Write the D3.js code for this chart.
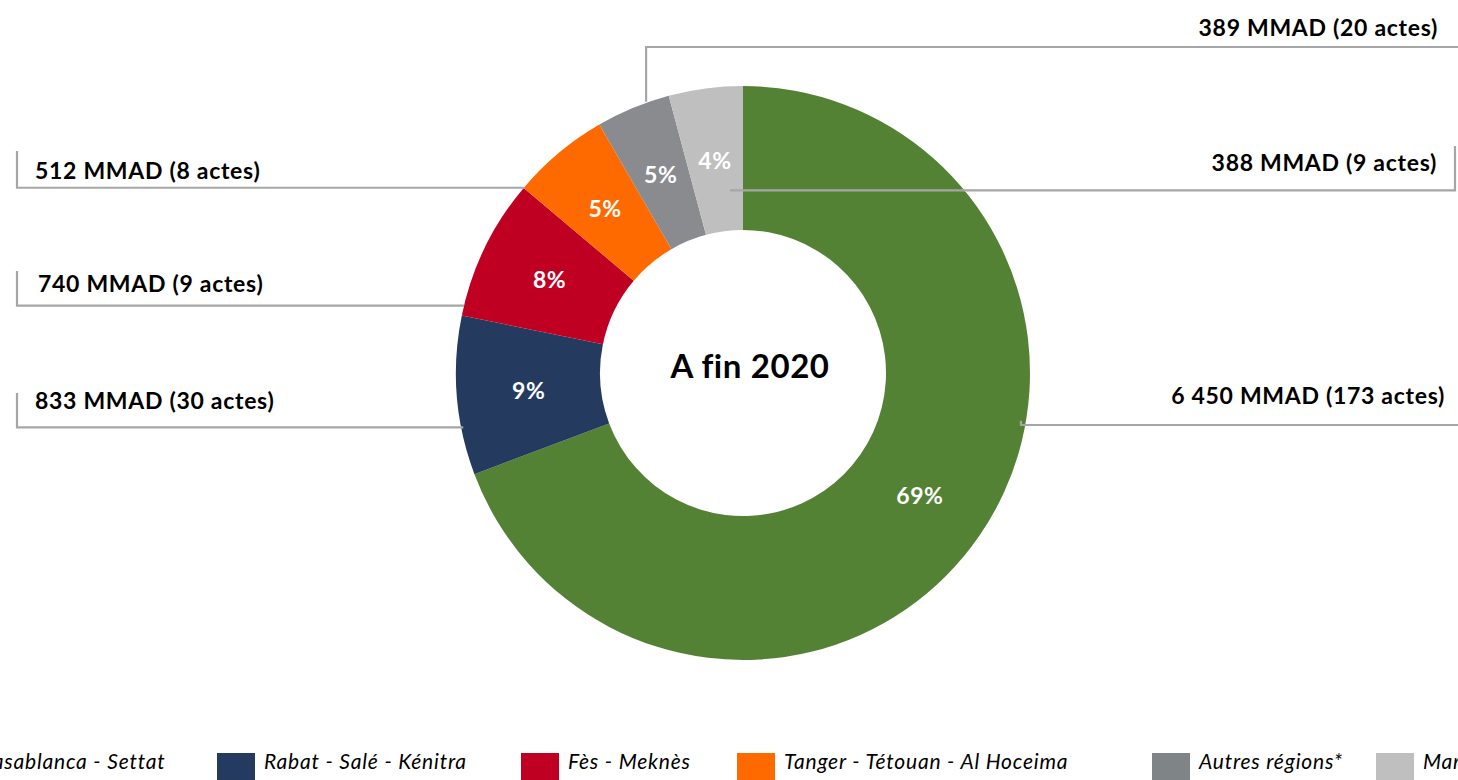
<!DOCTYPE html>
<html>
<head>
<meta charset="utf-8">
<script src="https://cdn.jsdelivr.net/npm/d3@7"></script>
<style>
  html, body { margin: 0; padding: 0; background: #fff; overflow: hidden; }
  svg { display: block; font-family: Lato, "Open Sans", sans-serif; font-variant-ligatures: none; }
</style>
</head>
<body>
<svg id="chart" width="1458" height="780"></svg>
<script>
// Data
const regions = ["Casablanca - Settat", "Rabat - Salé - Kénitra", "Fès - Meknès",
  "Tanger - Tétouan - Al Hoceima", "Autres régions*", "Marrakech - Safi"];
const amounts = [6450, 833, 740, 512, 389, 388];      // MMAD
const actes = [173, 30, 9, 8, 20, 9];
const pctLabels = ["69%", "9%", "8%", "5%", "5%", "4%"];
const sliceColors = ["#548235", "#253a5f", "#c00023", "#ff6a00", "#8a8b8f", "#bfbfbf"];
const legendColors = ["#548235", "#253a5f", "#c00023", "#ff6a00", "#7f8486", "#bfbfbf"];

const svg = d3.select("#chart");
const cx = 743, cy = 373, rOuter = 287, rInner = 143;

const pie = d3.pie().sort(null).value(d => d);
const arcs = pie(amounts);
const arc = d3.arc().innerRadius(rInner).outerRadius(rOuter);

const g = svg.append("g").attr("transform", `translate(${cx},${cy})`);

g.selectAll("path.slice")
  .data(arcs)
  .join("path")
  .attr("class", "slice")
  .attr("d", arc)
  .attr("fill", (d, i) => sliceColors[i]);

// point on a slice: fraction of its angle, radius
const pointOn = (d, frac, r) => {
  const a = d.startAngle + (d.endAngle - d.startAngle) * frac;
  return [cx + r * Math.sin(a), cy - r * Math.cos(a)];
};

// leader lines + value labels
const fmt = v => d3.format(",")(v).replace(/,/g, " ");
const labelText = i => `${fmt(amounts[i])} MMAD (${actes[i]} actes)`;

// layout of each callout: anchor on slice, elbow path, text position
const callouts = [
  { i: 0, frac: 0.40, r: 282, path: p => [[p[0], 425], [1458, 425]], tx: 1445, ty: 395, anchor: "end" },
  { i: 1, frac: 0.30, r: 285, path: p => [[p[0], p[1]], [17, p[1]], [17, 393]], tx: 35, ty: 400, anchor: "start" },
  { i: 2, frac: 0.07, r: 287, path: p => [[p[0], p[1]], [17, p[1]], [17, 271]], tx: 38, ty: 283, anchor: "start" },
  { i: 3, frac: 0.01, r: 286, path: p => [[p[0], p[1]], [17, p[1]], [17, 151]], tx: 35, ty: 170, anchor: "start" },
  { i: 4, frac: 0.69, r: 288, path: p => [[p[0], p[1]], [p[0], 47], [1458, 47]], tx: 1438, ty: 27, anchor: "end" },
  { i: 5, frac: 0.73, r: 183, path: p => [[p[0], p[1]], [1455, p[1]], [1455, 146]], tx: 1437, ty: 162, anchor: "end" }
];

const line = d3.line();
callouts.forEach(c => {
  const p = pointOn(arcs[c.i], c.frac, c.r);
  const pts = c.path(p);
  if (pts.length === 2) pts.unshift(p);
  svg.append("path")
    .attr("d", line(pts))
    .attr("fill", "none")
    .attr("stroke", "#a6a6a6")
    .attr("stroke-width", 2.2);
  svg.append("text")
    .attr("x", c.tx)
    .attr("y", c.ty)
    .attr("text-anchor", c.anchor)
    .attr("dominant-baseline", "central")
    .attr("font-size", 23)
    .attr("font-weight", 700)
    .attr("letter-spacing", 0.7)
    .attr("fill", "#000")
    .text(labelText(c.i));
});

// percent labels
g.selectAll("text.pct")
  .data(arcs)
  .join("text")
  .attr("class", "pct")
  .attr("transform", d => {
    const [x, y] = arc.centroid(d);
    return `translate(${x},${y})`;
  })
  .attr("text-anchor", "middle")
  .attr("dominant-baseline", "central")
  .attr("font-size", 23)
  .attr("font-weight", 700)
  .attr("letter-spacing", 0.5)
  .attr("fill", "#fff")
  .text((d, i) => pctLabels[i]);

// centre title
svg.append("text")
  .attr("x", 750)
  .attr("y", 365)
  .attr("text-anchor", "middle")
  .attr("dominant-baseline", "central")
  .attr("font-size", 33)
  .attr("font-weight", 700)
  .attr("letter-spacing", 0.6)
  .text("A fin 2020");

// legend (cropped at both sides like the original)
const legendX = [-68, 217, 521, 737, 1152, 1376];
const legend = svg.append("g").attr("transform", "translate(0,753)");
const items = legend.selectAll("g.item")
  .data(regions)
  .join("g")
  .attr("class", "item")
  .attr("transform", (d, i) => `translate(${legendX[i]},0)`);
items.append("rect")
  .attr("width", 38)
  .attr("height", 27)
  .attr("fill", (d, i) => legendColors[i]);
items.append("text")
  .attr("x", 47)
  .attr("y", 16)
  .attr("font-size", 21)
  .attr("font-style", "italic")
  .attr("letter-spacing", 0.8)
  .text(d => d);
</script>
</body>
</html>
